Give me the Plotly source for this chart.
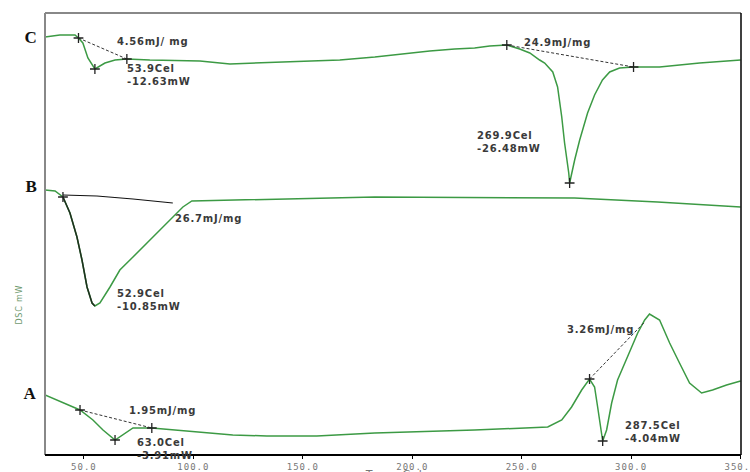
import plotly.graph_objects as go

# ---------------- data (temperature in Cel, DSC signal in arbitrary offset mW units) -------------
c_temp = [32.2, 39.0, 45.9, 47.5, 49.5, 51.8, 55.0, 59.6, 64.2, 69.6, 80.1, 103.0, 116.7, 130.4,
          148.6, 166.9, 182.9, 194.3, 208.0, 219.4, 228.5, 235.4, 243.2, 249.1, 253.7, 258.2,
          260.5, 264.2, 266.4, 268.3, 269.6, 271.5, 271.9, 274.2, 276.5, 280.1, 283.3, 286.9,
          290.2, 294.7, 301.1, 313.0, 331.3, 350.0]
c_signal = [41.8, 42.0, 42.0, 41.7, 41.2, 39.7, 38.6, 39.2, 39.5, 39.6, 39.5, 39.4, 39.1, 39.2,
            39.3, 39.5, 39.8, 40.1, 40.4, 40.6, 40.7, 40.9, 41.0, 40.6, 40.2, 39.5,
            39.2, 38.3, 36.8, 33.8, 31.2, 28.2, 27.2, 29.5, 31.5, 34.2, 36.0, 37.5,
            38.3, 38.7, 38.8, 38.8, 39.2, 39.5]

b_temp = [32.2, 36.8, 40.4, 43.6, 46.8, 49.1, 51.4, 53.7, 55.0, 57.3, 61.9, 66.4, 72.4, 78.8,
          84.7, 90.6, 95.2, 99.3, 118.0, 148.6, 182.9, 274.2, 312.1, 350.0]
b_signal = [26.5, 26.4, 25.8, 24.2, 21.8, 19.5, 16.8, 15.2, 14.9, 15.2, 16.8, 18.5, 19.8, 21.2,
            22.5, 23.7, 24.8, 25.4, 25.5, 25.6, 25.8, 25.7, 25.3, 24.8]

a_temp = [32.2, 48.2, 54.1, 58.7, 64.2, 67.8, 72.4, 81.0, 90.6, 103.0, 118.0, 133.6, 156.4,
          182.9, 228.5, 261.9, 268.3, 272.8, 277.4, 281.0, 283.3, 284.7, 286.1, 287.0, 288.8,
          291.1, 293.8, 298.4, 303.0, 306.2, 308.4, 313.0, 317.6, 322.1, 326.7, 332.2, 337.2,
          343.6, 350.0]
a_signal = [6.0, 4.5, 3.5, 2.5, 1.5, 2.0, 2.7, 2.7, 2.5, 2.3, 2.0, 1.9, 1.9,
            2.2, 2.5, 2.8, 3.5, 4.8, 6.5, 7.6, 6.8, 4.8, 2.5, 1.4, 2.5,
            5.2, 7.5, 9.8, 12.2, 13.5, 14.1, 13.5, 11.2, 9.2, 7.2, 6.2, 6.5,
            7.0, 7.4]

# integration baselines (start, end)
c1_base_t, c1_base_s = [47.5, 69.6], [41.7, 39.6]
c2_base_t, c2_base_s = [243.2, 301.1], [41.0, 38.8]
b_base_t, b_base_s = [40.4, 55.9, 72.4, 90.6], [26.0, 25.9, 25.6, 25.2]
a1_base_t, a1_base_s = [48.2, 81.0], [4.5, 2.7]
a2_base_t, a2_base_s = [281.0, 306.2], [7.6, 13.3]

# analysis points (+ marks)
mark_t = [47.5, 55.0, 69.6, 243.2, 271.9, 301.1, 40.4, 48.2, 64.2, 81.0, 281.0, 287.0]
mark_s = [41.7, 38.6, 39.6, 41.0, 27.2, 38.8, 25.8, 4.5, 1.5, 2.7, 7.6, 1.4]

# annotations: (text, temp, signal)
notes = [
    ("4.56mJ/ mg", 64.2, 41.4),
    ("53.9Cel<br>-12.63mW", 68.7, 38.0),
    ("24.9mJ/mg", 250.0, 41.3),
    ("269.9Cel<br>-26.48mW", 228.5, 31.3),
    ("26.7mJ/mg", 90.6, 23.7),
    ("52.9Cel<br>-10.85mW", 64.2, 15.5),
    ("1.95mJ/mg", 69.6, 4.5),
    ("63.0Cel<br>-3.91mW", 73.3, 0.6),
    ("3.26mJ/mg", 270.0, 12.6),
    ("287.5Cel<br>-4.04mW", 296.1, 2.3),
]
curve_labels = [("C", 41.8), ("B", 26.9), ("A", 6.2)]
x_ticks = [50, 100, 150, 200, 250, 300, 350]

GREEN = "#3c9a44"
DARK = "#1f2f1f"

fig = go.Figure()

fig.add_trace(go.Scatter(x=c_temp, y=c_signal, mode="lines", line=dict(color=GREEN, width=1.5)))
fig.add_trace(go.Scatter(x=b_temp, y=b_signal, mode="lines", line=dict(color=GREEN, width=1.5)))
fig.add_trace(go.Scatter(x=b_temp[2:9], y=b_signal[2:9], mode="lines", line=dict(color=DARK, width=1.5)))
fig.add_trace(go.Scatter(x=a_temp, y=a_signal, mode="lines", line=dict(color=GREEN, width=1.5)))

for bt, bs in [(c1_base_t, c1_base_s), (c2_base_t, c2_base_s), (a1_base_t, a1_base_s), (a2_base_t, a2_base_s)]:
    fig.add_trace(go.Scatter(x=bt, y=bs, mode="lines", line=dict(color="#333333", width=1, dash="3px,2px")))
fig.add_trace(go.Scatter(x=b_base_t, y=b_base_s, mode="lines", line=dict(color="#111111", width=1.2)))

fig.add_trace(go.Scatter(x=mark_t, y=mark_s, mode="markers",
                         marker=dict(symbol="cross-thin", size=7, line=dict(color="#222222", width=1.3))))

for txt, t, s in notes:
    fig.add_annotation(x=t, y=s, text="<b>" + txt + "</b>", showarrow=False, xanchor="left",
                       align="left", font=dict(family="DejaVu Sans", size=10, color="#3a3a3a"))

for lab, s in curve_labels:
    fig.add_annotation(x=-0.008, xref="paper", y=s, text="<b>" + lab + "</b>", showarrow=False,
                       xanchor="right", font=dict(family="Liberation Serif", size=17, color="#111111"))

fig.add_annotation(x=-0.046, xref="paper", y=0.34, yref="paper", text="DSC mW", textangle=-90,
                   showarrow=False, font=dict(family="DejaVu Sans", size=8, color="#6f9a6f"))
fig.add_annotation(x=0.5, xref="paper", y=0, yref="paper", yanchor="top", yshift=-11,
                   text="Temp Cel", showarrow=False,
                   font=dict(family="DejaVu Sans", size=11, color="#777777"))
fig.add_annotation(x=0.41, xref="paper", y=1, yref="paper", yanchor="bottom", yshift=9,
                   text="<b>(b)</b>", showarrow=False,
                   font=dict(family="DejaVu Sans", size=20, color="#111111"))

# frame
fig.add_shape(type="line", xref="paper", yref="paper", x0=0, x1=0, y0=0, y1=1, line=dict(color="#888888", width=2))
fig.add_shape(type="line", xref="paper", yref="paper", x0=0, x1=1, y0=1, y1=1, line=dict(color="#888888", width=2))
fig.add_shape(type="line", xref="paper", yref="paper", x0=1, x1=1, y0=0, y1=1, line=dict(color="#000000", width=1.5))
fig.add_shape(type="line", xref="paper", yref="paper", x0=0, x1=1, y0=0, y1=0, line=dict(color="#000000", width=2))

fig.update_layout(
    width=750, height=472,
    margin=dict(l=45, r=9, t=13, b=17),
    paper_bgcolor="white", plot_bgcolor="white",
    showlegend=False,
    xaxis=dict(range=[32.2, 350.2], tickvals=x_ticks, ticktext=[f"{v:.1f}" for v in x_ticks],
               showgrid=False, zeroline=False, showline=False, automargin=False,
               ticklabeloverflow="allow",
               ticks="outside", ticklen=3, tickcolor="#000000",
               tickfont=dict(family="DejaVu Sans Mono", size=9, color="#777777")),
    yaxis=dict(range=[0, 44.2], visible=False, showgrid=False, zeroline=False),
)

post = ("var s=document.createElement('style');"
        "s.innerHTML='html,body{margin:0;padding:0;overflow:hidden} "
        ".annotation-text{letter-spacing:0.8px} .xtick text{letter-spacing:1px}';"
        "document.head.appendChild(s);")

fig.write_html("out.html", post_script=post, config={"displayModeBar": False})
